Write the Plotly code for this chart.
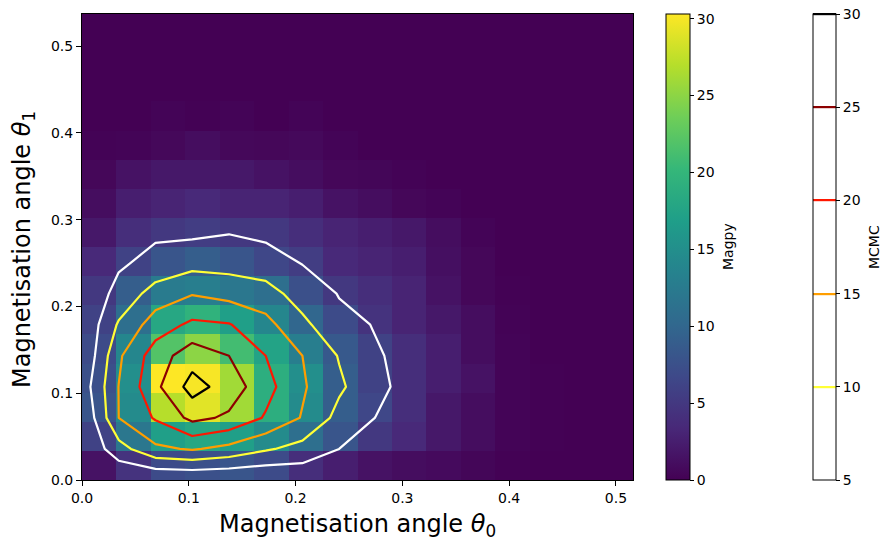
import numpy as np
import plotly.graph_objects as go

# Axis extents of the angle grid (radians)
X_MAX = 0.516
Y_MAX = 0.537

# Magpy histogram: 16 x 16 bins, rows run from theta_1 = 0 upwards,
# columns from theta_0 = 0 to the right
magpy_counts = [
    [1.5, 4.5, 7.0, 7.5, 8.0, 7.0, 4.0, 2.5, 1.5, 1.0, 0.8, 0.4, 0.1, 0, 0, 0],
    [6.0, 12.0, 17.0, 18.0, 17.0, 14.5, 11.0, 8.0, 5.0, 3.5, 2.0, 1.0, 0.3, 0.1, 0, 0],
    [8.0, 14.5, 27.0, 29.0, 26.0, 19.0, 14.5, 9.0, 6.5, 4.0, 2.0, 1.0, 0.3, 0.1, 0, 0],
    [7.5, 15.0, 30.3, 30.0, 26.0, 19.0, 15.0, 9.0, 6.0, 4.0, 2.5, 1.5, 0.3, 0.1, 0, 0],
    [7.0, 14.0, 22.0, 25.0, 21.0, 17.5, 13.0, 8.5, 6.0, 4.0, 2.5, 1.0, 0.3, 0, 0, 0],
    [6.0, 11.0, 18.0, 19.5, 17.0, 14.0, 10.0, 7.0, 4.5, 3.0, 2.0, 1.0, 0.2, 0, 0, 0],
    [5.0, 9.0, 12.5, 13.0, 12.0, 11.0, 7.5, 5.0, 4.0, 3.0, 1.5, 0.5, 0.1, 0, 0, 0],
    [3.5, 6.0, 8.0, 9.0, 8.0, 6.5, 5.5, 3.5, 3.0, 2.5, 1.2, 0.5, 0, 0, 0, 0],
    [2.0, 4.0, 5.0, 5.5, 5.0, 5.0, 4.0, 3.0, 2.5, 2.0, 1.0, 0.3, 0, 0, 0, 0],
    [1.0, 2.5, 3.0, 3.5, 3.0, 3.0, 2.5, 1.5, 1.0, 0.5, 0.3, 0, 0, 0, 0, 0],
    [0.5, 1.5, 2.0, 2.0, 2.0, 1.5, 1.0, 0.5, 0.4, 0.2, 0, 0, 0, 0, 0, 0],
    [0.2, 0.3, 0.6, 1.0, 0.6, 0.5, 0.7, 0.3, 0, 0, 0, 0, 0, 0, 0, 0],
    [0, 0, 0.3, 0.1, 0.3, 0, 0.3, 0, 0, 0, 0, 0, 0, 0, 0, 0],
    [0] * 16,
    [0] * 16,
    [0] * 16,
]

# MCMC density sampled on a 16 x 16 grid of nodes spanning the same extents
mcmc_density = [
    [0, 0.1, 0, 0, 0, 0, 1.1, 0.5, 0.3, 0, 0, 0, 0, 0, 0, 0],
    [0.1, 8.0, 14.0, 15.5, 13.5, 10.6, 8.3, 5.0, 2.5, 1.0, 0.3, 0, 0, 0, 0, 0],
    [0, 15.0, 20.5, 26.3, 24.2, 19.5, 14.66, 8.45, 4.9, 2.0, 0.8, 0.2, 0, 0, 0, 0],
    [2.0, 15.1, 23.8, 32.0, 27.8, 21.8, 15.6, 10.8, 6.5, 2.75, 1.0, 0.3, 0, 0, 0, 0],
    [0, 14.2, 22.5, 27.8, 25.0, 20.0, 15.0, 9.7, 5.3, 4.0, 1.5, 0.5, 0, 0, 0, 0],
    [0.4, 10.6, 17.4, 21.0, 20.3, 16.5, 11.3, 6.1, 4.8, 3.0, 1.0, 0.3, 0, 0, 0, 0],
    [1.5, 6.3, 12.2, 14.7, 13.3, 12.2, 7.6, 4.8, 3.0, 2.0, 0.5, 0, 0, 0, 0, 0],
    [0.5, 4.4, 6.2, 8.2, 8.0, 6.8, 4.8, 3.0, 2.0, 1.0, 0.3, 0, 0, 0, 0, 0],
    [0.2, 2.0, 4.3, 3.9, 4.7, 4.0, 3.0, 2.0, 1.0, 0.5, 0, 0, 0, 0, 0, 0],
    [0, 1.0, 2.0, 2.0, 2.0, 1.5, 1.0, 0.5, 0.3, 0, 0, 0, 0, 0, 0, 0],
    [0, 0.3, 0.5, 0.5, 0.5, 0.3, 0.2, 0, 0, 0, 0, 0, 0, 0, 0, 0],
    [0] * 16,
    [0] * 16,
    [0] * 16,
    [0] * 16,
    [0] * 16,
]

contour_levels = dict(start=5, end=30, size=5)
magpy_ticks = [0, 5, 10, 15, 20, 25, 30]
mcmc_ticks = [5, 10, 15, 20, 25, 30]
axis_ticks = [0.0, 0.1, 0.2, 0.3, 0.4, 0.5]

x_edges = np.linspace(0, X_MAX, len(magpy_counts[0]) + 1)
y_edges = np.linspace(0, Y_MAX, len(magpy_counts) + 1)
x_nodes = np.linspace(0, X_MAX, len(mcmc_density[0]))
y_nodes = np.linspace(0, Y_MAX, len(mcmc_density))

# matplotlib "hot_r" sampled at the contour levels 5..30
hot_r = [
    [0.0, "rgb(255,255,255)"],
    [0.2, "rgb(255,255,54)"],
    [0.4, "rgb(255,158,0)"],
    [0.6, "rgb(255,23,0)"],
    [0.8, "rgb(140,0,0)"],
    [1.0, "rgb(0,0,0)"],
]

FONT = "DejaVu Sans"
PLOT_L, PLOT_R, PLOT_T, PLOT_B = 82, 633, 14, 480
W, H = 891, 540
plot_w = PLOT_R - PLOT_L
plot_h = PLOT_B - PLOT_T


def px_to_paper_x(px):
    return (px - PLOT_L) / plot_w


def px_to_paper_y(py):
    return (PLOT_B - py) / plot_h


cbar_common = dict(
    len=1, lenmode="fraction", y=0.5, yanchor="middle",
    xanchor="left", xpad=0, ypad=0,
    outlinewidth=1, outlinecolor="black",
    ticks="outside", ticklen=4, tickwidth=1, tickcolor="black",
    tickfont=dict(family=FONT, size=14, color="black"),
)

fig = go.Figure()

fig.add_trace(go.Heatmap(
    x=x_edges, y=y_edges, z=magpy_counts,
    colorscale="Viridis", zmin=0, zmax=float(np.max(magpy_counts)),
    hoverinfo="skip",
    colorbar=dict(x=px_to_paper_x(666), thickness=24,
                  tickvals=magpy_ticks, **cbar_common),
))

fig.add_trace(go.Contour(
    x=x_nodes, y=y_nodes, z=mcmc_density,
    contours=dict(coloring="lines", **contour_levels),
    colorscale=hot_r,
    line=dict(width=2.2, smoothing=0),
    hoverinfo="skip",
    colorbar=dict(x=px_to_paper_x(813), thickness=23,
                  tickvals=mcmc_ticks, **cbar_common),
))

axis_common = dict(
    showgrid=False, zeroline=False, automargin=False,
    showline=True, linecolor="black", linewidth=1, mirror=True,
    ticks="outside", ticklen=5, tickwidth=1, tickcolor="black",
    tickvals=axis_ticks, tickformat=".1f",
    tickfont=dict(family=FONT, size=14, color="black"),
)

title_font = dict(family=FONT, size=24, color="black")
label_font = dict(family=FONT, size=14, color="black")

fig.update_layout(
    width=W, height=H,
    margin=dict(l=PLOT_L, r=W - PLOT_R, t=PLOT_T, b=H - PLOT_B, pad=0,
                autoexpand=False),
    paper_bgcolor="white", plot_bgcolor="white",
    font=dict(family=FONT, color="black"),
    xaxis=dict(range=[0, X_MAX], **axis_common),
    yaxis=dict(range=[0, Y_MAX], **axis_common),
    annotations=[
        dict(text="Magnetisation angle <i>θ</i><sub>0</sub>",
             x=0.5, y=px_to_paper_y(525), xref="paper", yref="paper",
             xanchor="center", yanchor="middle",
             showarrow=False, font=title_font),
        dict(text="Magnetisation angle <i>θ</i><sub>1</sub>",
             x=px_to_paper_x(23), y=px_to_paper_y(250), xref="paper", yref="paper",
             xanchor="center", yanchor="middle", textangle=-90,
             showarrow=False, font=title_font),
        dict(text="Magpy", x=px_to_paper_x(738), y=0.5, xref="paper", yref="paper",
             textangle=-90, showarrow=False, font=label_font),
        dict(text="MCMC", x=px_to_paper_x(884), y=0.5, xref="paper", yref="paper",
             textangle=-90, showarrow=False, font=label_font),
    ],
    showlegend=False,
)

fig.write_html("out.html")
